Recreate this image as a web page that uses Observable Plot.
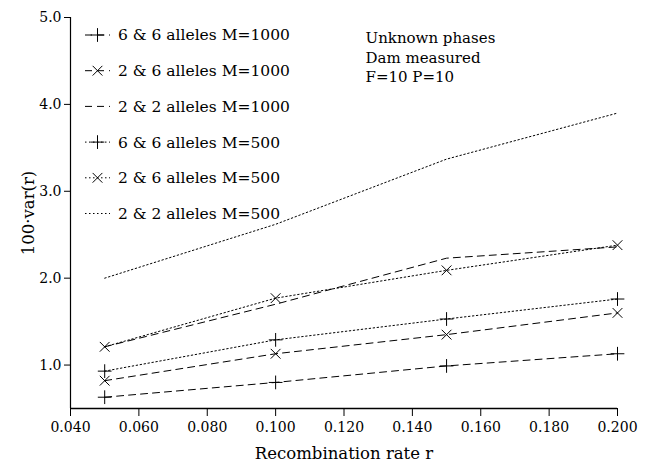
<!DOCTYPE html>
<html><head><meta charset="utf-8">
<script src="https://cdn.jsdelivr.net/npm/d3@7"></script>
<script src="https://cdn.jsdelivr.net/npm/@observablehq/plot@0.6"></script>
<style>
body{margin:0;background:#fff}
#wrap{position:relative;width:646px;height:466px;font-family:"DejaVu Serif",serif}
#legend{position:absolute;left:0;top:0}
</style>
</head><body><div id="wrap"></div>
<script>
// Data
const rates = [0.05, 0.10, 0.15, 0.20];
const s66_1000 = [0.63, 0.80, 0.99, 1.13];
const s26_1000 = [0.82, 1.13, 1.35, 1.60];
const s22_1000 = [1.21, 1.70, 2.23, 2.36];
const s66_500  = [0.93, 1.29, 1.53, 1.76];
const s26_500  = [1.21, 1.77, 2.09, 2.38];
const s22_500  = [2.00, 2.62, 3.37, 3.90];
const seriesNames = ["6 & 6 alleles M=1000","2 & 6 alleles M=1000","2 & 2 alleles M=1000",
                     "6 & 6 alleles M=500","2 & 6 alleles M=500","2 & 2 alleles M=500"];
const xTicks = [0.04, 0.06, 0.08, 0.10, 0.12, 0.14, 0.16, 0.18, 0.20];
const yTicks = [1, 2, 3, 4, 5];
const annotation = "Unknown phases\nDam measured\nF=10 P=10";

const DASH = "7,5", DOT = "1.5,2.5";
const series = [
  {name: seriesNames[0], values: s66_1000, dash: DASH, symbol: "plus"},
  {name: seriesNames[1], values: s26_1000, dash: DASH, symbol: "times"},
  {name: seriesNames[2], values: s22_1000, dash: DASH, symbol: null},
  {name: seriesNames[3], values: s66_500,  dash: DOT,  symbol: "plus"},
  {name: seriesNames[4], values: s26_500,  dash: DOT,  symbol: "times"},
  {name: seriesNames[5], values: s22_500,  dash: DOT,  symbol: null}
];

const marks = [
  Plot.ruleX([0.04], {stroke: "black", strokeWidth: 1.2}),
  Plot.ruleY([0.5], {stroke: "black", strokeWidth: 1.4})
];
series.forEach(s => {
  const data = rates.map((r, i) => ({r, v: s.values[i]}));
  marks.push(Plot.line(data, {x: "r", y: "v", stroke: "black", strokeWidth: 1, strokeDasharray: s.dash}));
  if (s.symbol) marks.push(Plot.dot(data, {x: "r", y: "v", symbol: s.symbol, r: 4.5, stroke: "black", strokeWidth: 1}));
});
marks.push(Plot.text([annotation], {frameAnchor: "top-left", dx: 295, dy: 12, text: d => d,
  textAnchor: "start", lineAnchor: "top", fontSize: 15, lineHeight: 1.3, fill: "black"}));

const chart = Plot.plot({
  width: 646, height: 466,
  marginLeft: 70, marginRight: 29, marginTop: 17, marginBottom: 58,
  style: {fontFamily: "DejaVu Serif", fontSize: "14px", color: "black", background: "white"},
  x: {domain: [0.04, 0.20], ticks: xTicks, tickFormat: d3.format(".3f"), tickSize: 8, tickPadding: 6,
      label: "Recombination rate r", labelAnchor: "center", labelOffset: 50, labelArrow: "none"},
  y: {domain: [0.5, 5.0], ticks: yTicks, tickFormat: d3.format(".1f"), tickSize: 6, tickPadding: 3,
      label: "100·var(r)", labelAnchor: "center", labelOffset: 48, labelArrow: "none"},
  marks
});
const wrap = document.getElementById("wrap");
wrap.appendChild(chart);
d3.select(chart).selectAll('g[aria-label="x-axis label"] text, g[aria-label="y-axis label"] text')
  .style("font-size", "16.5px");

// Legend overlay
const lg = d3.select(wrap).append("svg").attr("id", "legend")
  .attr("width", 646).attr("height", 466)
  .style("font-family", "DejaVu Serif").style("font-size", "15.5px");
series.forEach((s, i) => {
  const y = 35 + i * 35.7;
  const g = lg.append("g").attr("transform", `translate(85,${y})`);
  g.append("line").attr("x1", 0).attr("x2", 25).attr("y1", 0).attr("y2", 0)
    .attr("stroke", "black").attr("stroke-width", 1).attr("stroke-dasharray", s.dash);
  if (s.symbol) {
    const sym = s.symbol === "plus" ? d3.symbolPlus : d3.symbolTimes;
    g.append("path").attr("d", d3.symbol(sym, 4.5 * 4.5 * Math.PI)()).attr("transform", "translate(12.5,0)")
      .attr("fill", "none").attr("stroke", "black").attr("stroke-width", 1);
  }
  g.append("text").attr("x", 33).attr("y", 0).attr("dy", "0.35em").attr("fill", "black").text(s.name);
});
</script>
</body></html>
